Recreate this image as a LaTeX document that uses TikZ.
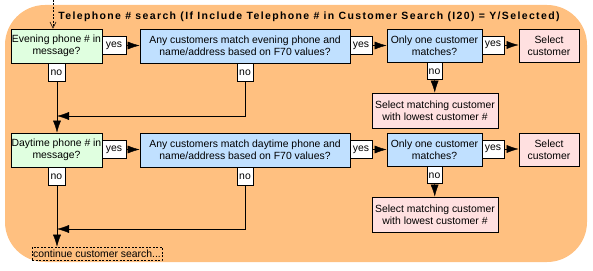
\documentclass[tikz,border=0pt]{standalone}
\usepackage{fontspec}
\setmainfont{Liberation Sans}
\usetikzlibrary{arrows.meta}

\begin{document}
\begin{tikzpicture}[x=1pt, y=-1pt, >={Latex[length=12pt,width=8pt]},
  every node/.style={font=\fontsize{10.4}{11.8}\selectfont, align=center, inner sep=0pt, line width=0.8pt},
  box/.style={draw, minimum height=34pt},
  askbox/.style={box, fill=askgreen},
  matchbox/.style={box, fill=matchblue},
  pickbox/.style={box, fill=pickpink},
  tag/.style={draw, fill=white, minimum height=18pt}]
  \definecolor{bgorange}{RGB}{255,192,128}
  \definecolor{askgreen}{RGB}{224,255,224}
  \definecolor{matchblue}{RGB}{192,224,255}
  \definecolor{pickpink}{RGB}{255,224,224}

  \useasboundingbox (0,0) rectangle (593,270);
  \fill[bgorange, rounded corners=40pt] (5,5) rectangle (587,262);

  \node[anchor=west, font=\fontsize{10.5}{12}\selectfont\bfseries\addfontfeatures{LetterSpace=13}] (title) at (58,16.5)
    {Telephone \# search (If Include Telephone \# in Customer Search (I20) = Y/Selected)};

  \foreach \r/\y/\j/\What/\what in {1/0/116/Evening/evening, 2/104/229/Daytime/daytime} {
    \node[askbox, minimum width=91pt] (ask\r) at (56.5,{46+\y}) {\What\ phone \# in\\message?};
    \node[tag, minimum width=24pt] (yesA\r) at (114,{45.5+\y}) {yes};
    \node[matchbox, minimum width=210pt] (match\r) at (245,{46+\y})
      {Any customers match \what\ phone and\\name/address based on F70 values?};
    \node[tag, minimum width=22pt] (yesB\r) at (361,{45.5+\y}) {yes};
    \node[matchbox, minimum width=95pt, minimum height=33pt] (only\r) at (434.5,{45.5+\y}) {Only one customer\\matches?};
    \node[tag, minimum width=22pt] (yesC\r) at (493,{45+\y}) {yes};
    \node[pickbox, minimum width=60pt, minimum height=33pt] (select\r) at (549,{45.5+\y}) {Select\\customer};
    \node[tag, minimum width=15pt, minimum height=17pt, anchor=north] (noC\r) at (only\r.south) {no};
    \node[pickbox, minimum width=126pt, minimum height=35pt] (lowest\r) at (435,{110.5+\y})
      {Select matching customer\\with lowest customer \#};
    \node[tag, minimum width=17pt, anchor=north] (noA\r) at (ask\r.south) {no};
    \node[tag, minimum width=16pt, anchor=north] (noB\r) at (match\r.south) {no};

    \draw[->] (yesA\r.east) -- (yesA\r.east -| match\r.west);
    \draw[->] (yesB\r.east) -- (yesB\r.east -| only\r.west);
    \draw[->] (yesC\r.east) -- (yesC\r.east -| select\r.west);
    \draw[->] (noC\r) -- (lowest\r);
    \coordinate (join\r) at (57,\j);
    \draw (noA\r.south -| join\r) -- (join\r);
    \draw[->] (noB\r.south) |- (join\r);
  }

  \node[draw, dash pattern=on 2pt off 1.5pt, line width=0.6pt, minimum width=130pt, minimum height=13pt]
    (cont) at (97,253.5) {continue customer search...};

  % entry from the previous step
  \coordinate (entry) at (53,0);
  \draw[line width=0.6pt, dash pattern=on 2pt off 1.5pt, -{Straight Barb[length=6pt,width=6pt]}] (entry) -- (entry |- ask1.north);
  \draw[->] (join1) -- (join1 |- ask2.north);
  \draw[->] (join2) -- (join2 |- cont.north);

\end{tikzpicture}
\end{document}
